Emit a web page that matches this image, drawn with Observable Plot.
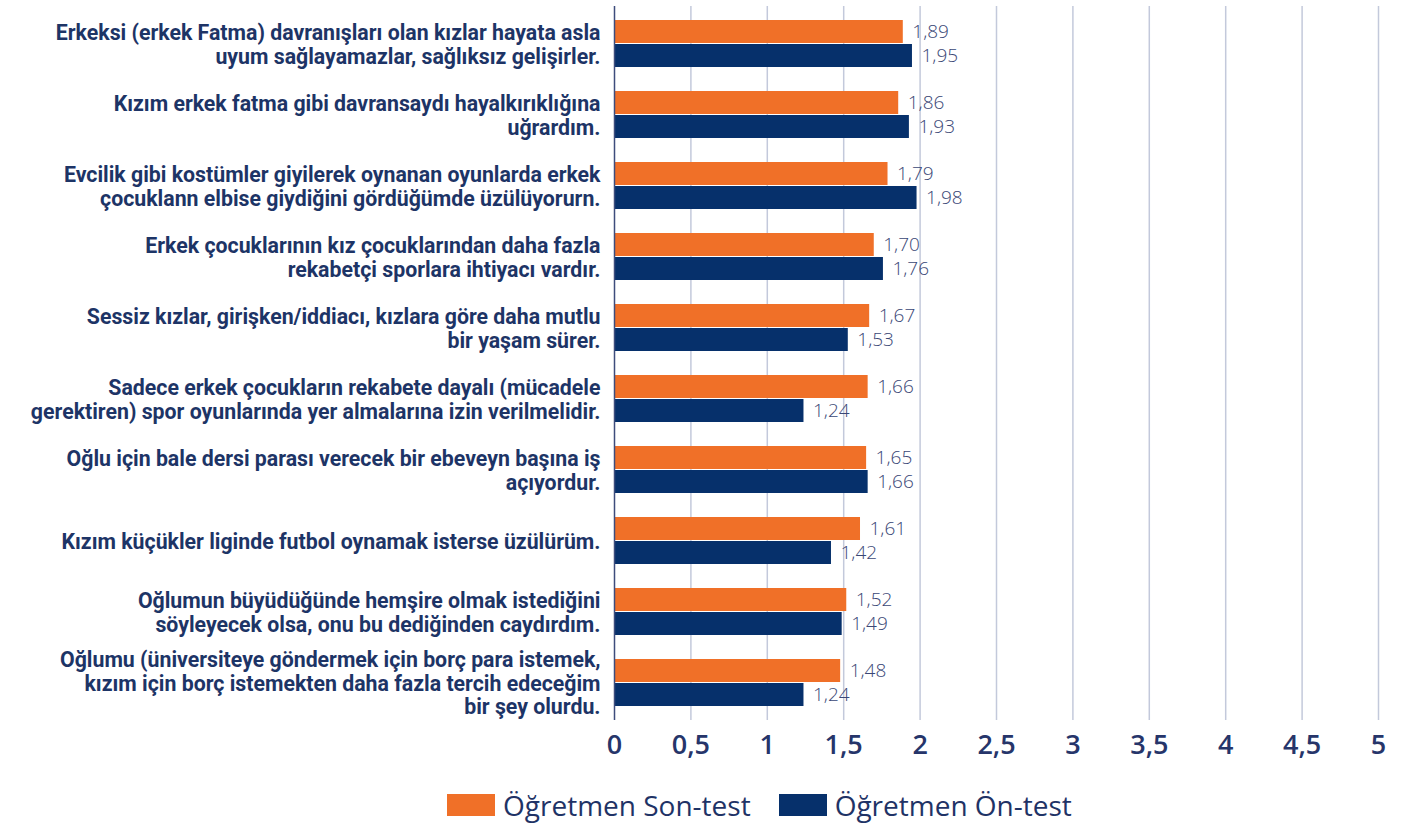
<!DOCTYPE html>
<html>
<head>
<meta charset="utf-8">
<script src="https://cdn.jsdelivr.net/npm/d3@7"></script>
<script src="https://cdn.jsdelivr.net/npm/@observablehq/plot@0.6"></script>
<style>
  html, body { margin: 0; padding: 0; background: #fff; }
  #chart { width: 1412px; }
  .legend { display: flex; align-items: center; height: 70px; padding-left: 447px; font-family: "Open Sans", "Noto Sans", sans-serif; font-size: 28px; color: #1f3366; font-weight: 500; }
  .legend .sw { width: 48px; height: 22px; display: inline-block; margin-right: 8px; }
  .legend .item { display: flex; align-items: center; margin-right: 28px; }
</style>
</head>
<body>
<div id="chart"></div>
<script>
const categories = [
  "Erkeksi (erkek Fatma) davranışları olan kızlar hayata asla\nuyum sağlayamazlar, sağlıksız gelişirler.",
  "Kızım erkek fatma gibi davransaydı hayalkırıklığına\nuğrardım.",
  "Evcilik gibi kostümler giyilerek oynanan oyunlarda erkek\nçocuklann elbise giydiğini gördüğümde üzülüyorurn.",
  "Erkek çocuklarının kız çocuklarından daha fazla\nrekabetçi sporlara ihtiyacı vardır.",
  "Sessiz kızlar, girişken/iddiacı, kızlara göre daha mutlu\nbir yaşam sürer.",
  "Sadece erkek çocukların rekabete dayalı (mücadele\ngerektiren) spor oyunlarında yer almalarına izin verilmelidir.",
  "Oğlu için bale dersi parası verecek bir ebeveyn başına iş\naçıyordur.",
  "Kızım küçükler liginde futbol oynamak isterse üzülürüm.",
  "Oğlumun büyüdüğünde hemşire olmak istediğini\nsöyleyecek olsa, onu bu dediğinden caydırdım.",
  "Oğlumu (üniversiteye göndermek için borç para istemek,\nkızım için borç istemekten daha fazla tercih edeceğim\nbir şey olurdu."
];
const sonTest = [1.89, 1.86, 1.79, 1.70, 1.67, 1.66, 1.65, 1.61, 1.52, 1.48];
const onTest  = [1.95, 1.93, 1.98, 1.76, 1.53, 1.24, 1.66, 1.42, 1.49, 1.24];
const xTicks = [0, 0.5, 1, 1.5, 2, 2.5, 3, 3.5, 4, 4.5, 5];
const seriesNames = ["Öğretmen Son-test", "Öğretmen Ön-test"];
const colors = ["#f07028", "#06306b"];

const son = categories.map((c, i) => ({cat: c, v: sonTest[i]}));
const on = categories.map((c, i) => ({cat: c, v: onTest[i]}));
const fmt = d => String(d).replace(".", ",");
const fmt2 = d => d.toFixed(2).replace(".", ",");

const chart = Plot.plot({
  width: 1412,
  height: 770,
  marginLeft: 614,
  marginRight: 34,
  marginTop: 6,
  marginBottom: 50,
  style: {fontFamily: "Roboto, 'Noto Sans', sans-serif", background: "#fff"},
  x: {domain: [0, 5], ticks: xTicks, tickFormat: fmt},
  y: {domain: categories, paddingInner: 0.34, paddingOuter: 0.17, label: null},
  marks: [
    Plot.ruleX(xTicks.filter(d => d > 0), {stroke: "#c3c9db", strokeWidth: 1.5}),
    Plot.barX(son, {y: "cat", x: "v", fill: colors[0], insetBottom: 24}),
    Plot.barX(on, {y: "cat", x: "v", fill: colors[1], insetTop: 24}),
    Plot.ruleX([0], {stroke: "#3d4c7c", strokeWidth: 1.5}),
    Plot.text(son, {y: "cat", x: "v", text: d => fmt2(d.v), dy: -12, dx: 9, textAnchor: "start", fontSize: 19, fontWeight: 300, fill: "#3a4776", fontFamily: "'Open Sans', sans-serif"}),
    Plot.text(on, {y: "cat", x: "v", text: d => fmt2(d.v), dy: 12, dx: 9, textAnchor: "start", fontSize: 19, fontWeight: 300, fill: "#3a4776", fontFamily: "'Open Sans', sans-serif"}),
    Plot.axisX({ticks: xTicks, tickFormat: fmt, tickSize: 0, tickPadding: 14, fontSize: 27, fontWeight: 600, fill: "#26356a", label: null, fontFamily: "'Open Sans', sans-serif"}),
    Plot.axisY({tickSize: 0, tickPadding: 14, fontSize: 21.3, fontWeight: 700, fill: "#1d3466", lineHeight: 1.12, label: null})
  ]
});
document.getElementById("chart").appendChild(chart);

const legend = document.createElement("div");
legend.className = "legend";
seriesNames.forEach((n, i) => {
  const it = document.createElement("div");
  it.className = "item";
  const sw = document.createElement("span");
  sw.className = "sw";
  sw.style.background = colors[i];
  it.appendChild(sw);
  it.appendChild(document.createTextNode(n));
  legend.appendChild(it);
});
document.getElementById("chart").appendChild(legend);
</script>
</body>
</html>
